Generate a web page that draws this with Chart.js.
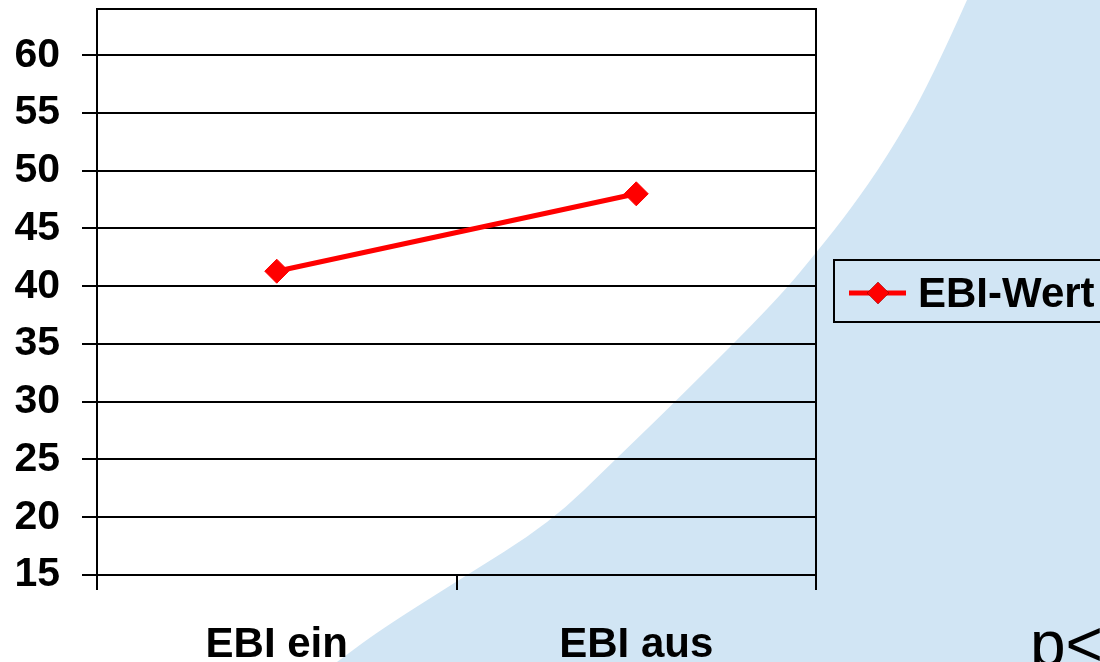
<!DOCTYPE html>
<html>
<head>
<meta charset="utf-8">
<script src="https://cdn.jsdelivr.net/npm/chart.js@4"></script>
<style>
  html, body { margin: 0; padding: 0; background: #fff; }
  canvas { display: block; }
</style>
</head>
<body>
<canvas id="ebi-chart" width="1100" height="662"></canvas>
<script>
var categories = ['EBI ein', 'EBI aus'];
var ebiWerte = [41.3, 48];
var yTicks = [15, 20, 25, 30, 35, 40, 45, 50, 55, 60];
var seriesLabel = 'EBI-Wert';
var noteText = 'p<';

var FONT = "'Liberation Sans', Arial, sans-serif";

// Hintergrund der Folie: helle blaue Fläche mit geschwungener Kante
var slideBackground = {
    id: 'slideBackground',
    beforeDraw: function (chart) {
        var c = chart.ctx;
        var w = chart.width, h = chart.height;
        c.save();
        c.fillStyle = '#ffffff';
        c.fillRect(0, 0, w, h);
        var edge = [[967, 0], [930, 83], [887, 157], [850, 210], [820, 248], [777, 300],
                    [677, 400], [617, 458], [550, 523], [459, 580], [380, 630], [337, 662]];
        c.beginPath();
        c.moveTo(w, 0);
        c.lineTo(edge[0][0], edge[0][1]);
        for (var i = 1; i < edge.length - 1; i++) {
            var mx = (edge[i][0] + edge[i + 1][0]) / 2;
            var my = (edge[i][1] + edge[i + 1][1]) / 2;
            c.quadraticCurveTo(edge[i][0], edge[i][1], mx, my);
        }
        c.lineTo(edge[edge.length - 1][0], edge[edge.length - 1][1]);
        c.lineTo(edge[edge.length - 1][0] - 20, h);
        c.lineTo(w, h);
        c.closePath();
        c.fillStyle = '#d1e5f4';
        c.fill();
        c.restore();
    }
};

// Rahmen oben/rechts, Legende mit Kasten und Text unten rechts
var frameAndLegend = {
    id: 'frameAndLegend',
    afterDraw: function (chart) {
        var c = chart.ctx;
        var a = chart.chartArea;
        var ds = chart.data.datasets[0];
        c.save();
        c.strokeStyle = '#000';
        c.lineWidth = 2;
        c.beginPath();
        c.moveTo(a.left, a.top);
        c.lineTo(a.right, a.top);
        c.lineTo(a.right, a.bottom);
        c.stroke();

        // Legende
        c.strokeRect(834, 260, 300, 62);
        c.strokeStyle = ds.borderColor;
        c.lineWidth = ds.borderWidth;
        c.beginPath();
        c.moveTo(849, 293);
        c.lineTo(906, 293);
        c.stroke();
        Chart.helpers.drawPoint(c, {
            pointStyle: 'rectRot', radius: 11, borderWidth: 0
        }, 878, 293);
        c.fillStyle = ds.pointBackgroundColor;
        c.fill();
        c.fillStyle = '#000';
        c.font = 'bold 42px ' + FONT;
        c.textAlign = 'left';
        c.textBaseline = 'middle';
        c.fillText(ds.label, 918, 295);

        // Signifikanzhinweis
        c.font = '64px ' + FONT;
        c.textBaseline = 'alphabetic';
        c.fillText(noteText, 1030, 666);
        c.restore();
    }
};

var ctx = document.getElementById('ebi-chart').getContext('2d');
var myChart = new Chart(ctx, {
    type: 'line',
    data: {
        labels: categories,
        datasets: [{
            label: seriesLabel,
            data: ebiWerte,
            borderColor: '#ff0000',
            borderWidth: 5,
            pointStyle: 'rectRot',
            pointRadius: 12,
            pointBackgroundColor: '#ff0000',
            pointBorderColor: '#ff0000',
            pointBorderWidth: 1,
            fill: false,
            tension: 0
        }]
    },
    options: {
        responsive: false,
        animation: false,
        layout: {
            autoPadding: false,
            padding: { top: 9, right: 284, left: 0, bottom: 0 }
        },
        plugins: {
            legend: { display: false },
            tooltip: { enabled: false }
        },
        scales: {
            x: {
                offset: true,
                grid: {
                    display: true,
                    offset: true,
                    drawOnChartArea: false,
                    drawTicks: true,
                    tickLength: 15,
                    color: '#000',
                    lineWidth: 2
                },
                border: { display: true, color: '#000', width: 2 },
                ticks: {
                    color: '#000',
                    padding: 30,
                    font: { family: FONT, size: 42, weight: 'bold' }
                },
                afterFit: function (scale) {
                    scale.height = 87;
                    scale.paddingLeft = 0;
                    scale.paddingRight = 0;
                }
            },
            y: {
                min: 15,
                max: 64,
                afterBuildTicks: function (scale) {
                    scale.ticks = yTicks.map(function (v) { return { value: v }; });
                },
                grid: {
                    color: '#000',
                    lineWidth: 2,
                    drawTicks: true,
                    tickLength: 15
                },
                border: { display: true, color: '#000', width: 2 },
                ticks: {
                    color: '#000',
                    padding: 22,
                    font: { family: FONT, size: 41, weight: 'bold' }
                },
                afterFit: function (scale) {
                    scale.width = 97;
                    scale.paddingTop = 0;
                    scale.paddingBottom = 0;
                }
            }
        }
    },
    plugins: [slideBackground, frameAndLegend]
});
</script>
</body>
</html>
